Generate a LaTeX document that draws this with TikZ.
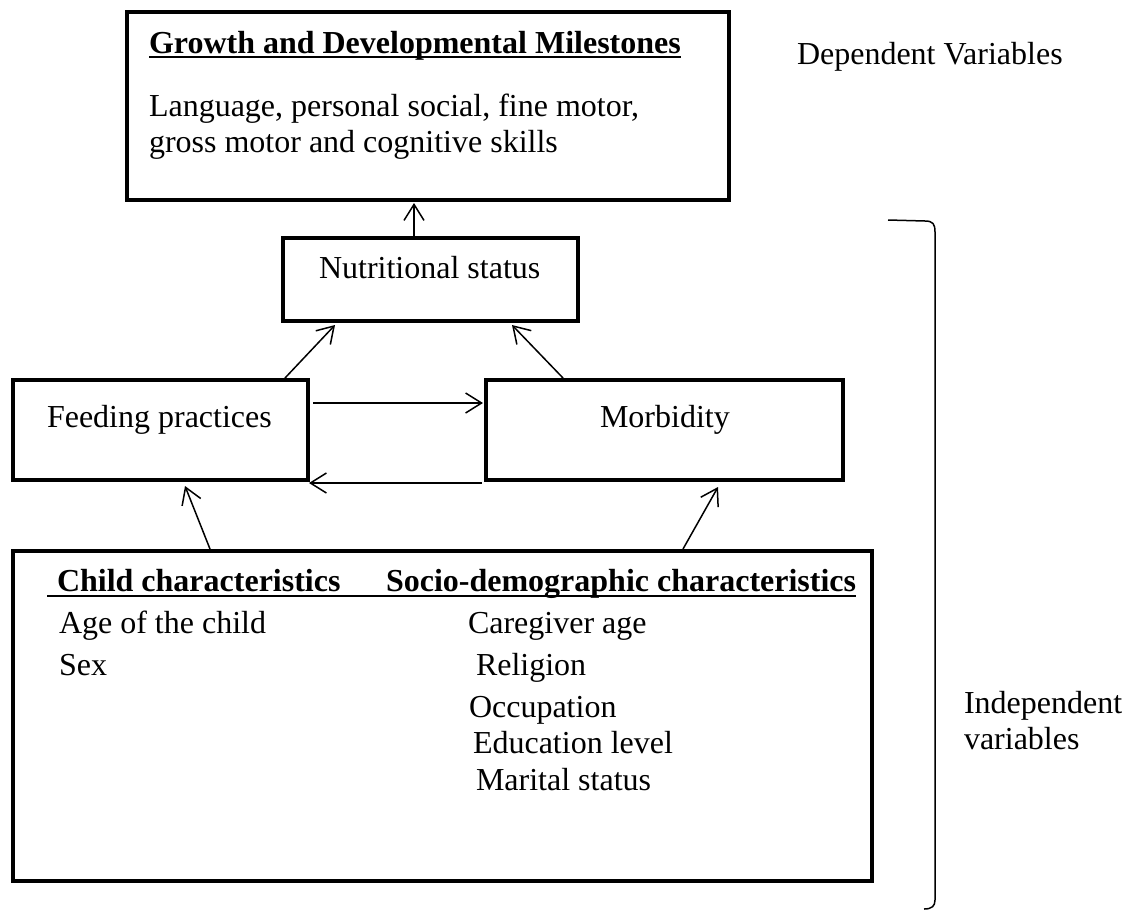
\documentclass[tikz,border=0pt]{standalone}
\usepackage{fontspec}
\setmainfont{Liberation Serif}
\usetikzlibrary{arrows.meta,calc}
\begin{document}
\begin{tikzpicture}[x=1pt,y=-1pt,
  font=\fontsize{32}{36}\selectfont,
  box/.style={draw, line width=4pt, inner sep=0pt, outer sep=0pt, anchor=north west},
  txt/.style={inner sep=0pt, outer sep=0pt, anchor=base west},
  hdr/.style={txt, font=\fontsize{32}{36}\selectfont\bfseries},
  arr/.style={line width=1.5pt, -{Straight Barb[length=16pt,width=20pt,line width=1.5pt]}},
  uline/.style={line width=2.5pt}]
\useasboundingbox (0,0) rectangle (1134,911);
% boxes
\node[box, minimum width=602pt, minimum height=188pt] (top) at (127,12) {};
\node[box, minimum width=295pt, minimum height=83pt] (nut) at (283,238) {};
\node[box, minimum width=295pt, minimum height=100pt] (feed) at (13,380) {};
\node[box, minimum width=357pt, minimum height=100pt] (morb) at (486,380) {};
\node[box, minimum width=859pt, minimum height=330pt] (bot) at (13,551) {};
% texts
\node[hdr] (gdm) at (149,53) {Growth and Developmental Milestones};
\draw[uline] ($(gdm.base west)+(0,4)$) -- ($(gdm.base east)+(0,4)$);
\node[txt] (lang1) at (149,116) {Language, personal social, fine motor,};
\node[txt] (lang2) at (149,152) {gross motor and cognitive skills};
\node[txt] (dep) at (797,64) {Dependent Variables};
\node[txt] (nutt) at (319,278) {Nutritional status};
\node[txt] (feedt) at (47,427) {Feeding practices};
\node[txt] (morbt) at (600,427) {Morbidity};
\node[hdr] (child) at (57,591) {Child characteristics};
\node[hdr] (socio) at (386,591) {Socio-demographic characteristics};
\draw[uline] ($(child.base west)+(-10,5)$) -- ($(socio.base east)+(0,5)$);
\node[txt] (age) at (59,633) {Age of the child};
\node[txt] (sex) at (59,675) {Sex};
\node[txt] (cga) at (468,633) {Caregiver age};
\node[txt] (rel) at (476,675) {Religion};
\node[txt] (occ) at (469,717) {Occupation};
\node[txt] (edu) at (473,753) {Education level};
\node[txt] (mar) at (476,790) {Marital status};
\node[txt] (ind1) at (964,713) {Independent};
\node[txt] (ind2) at (964,749) {variables};
% arrows
\draw[arr] ($(nut.north west)+(131,-2)$) -- ($(top.south west)+(287,3)$);
\draw[arr] ($(feed.north west)+(272,-2)$) -- ($(nut.south west)+(52,4)$);
\draw[arr] ($(morb.north west)+(77,-2)$) -- ($(nut.south west)+(229,4)$);
\draw[arr] ($(feed.north east)+(5,23)$) -- ($(morb.north west)+(-3,23)$);
\draw[arr] ($(morb.south west)+(-4,3)$) -- ($(feed.south east)+(1,3)$);
\draw[arr] ($(bot.north west)+(197,-2)$) -- ($(feed.south west)+(172,6)$);
\draw[arr] ($(bot.north west)+(670,-2)$) -- ($(morb.south west)+(232,7)$);
% bracket
\draw[line width=1.5pt] (888,220) -- (925,221) .. controls (933,221) and (935,224) .. (935,232)
  -- (935,900) .. controls (935,906) and (932,909) .. (924,909);
\end{tikzpicture}
\end{document}
